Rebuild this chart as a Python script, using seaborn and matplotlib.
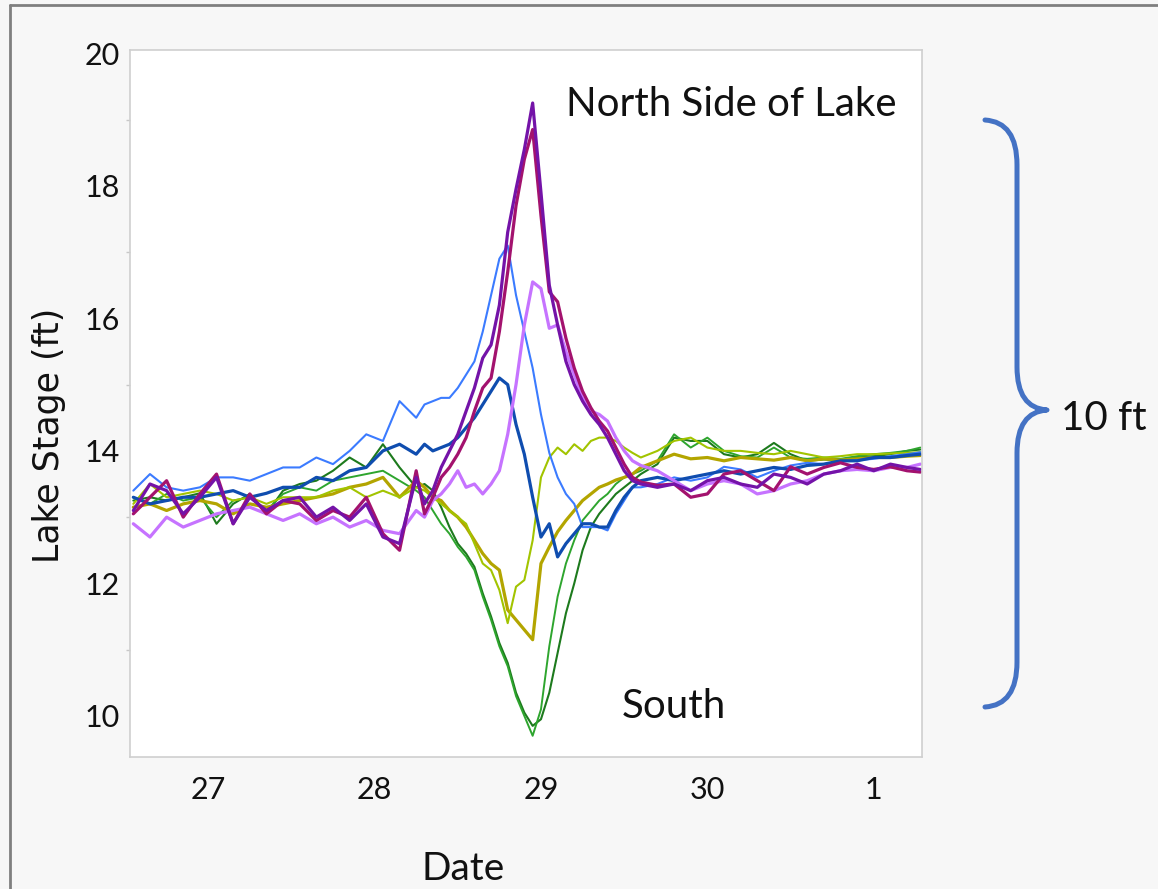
import numpy as np
import pandas as pd
import matplotlib
matplotlib.use("Agg")
import matplotlib.pyplot as plt
import seaborn as sns
from matplotlib import font_manager
from matplotlib.path import Path
from matplotlib.patches import PathPatch
from matplotlib.lines import Line2D

# ---------------- data ----------------
day = [26.55, 26.65, 26.75, 26.85, 26.95, 27.05, 27.15, 27.25, 27.35, 27.45, 27.55, 27.65, 27.75, 27.85, 27.95, 28.05, 28.15, 28.25,
       28.30, 28.35, 28.40, 28.45, 28.50, 28.55, 28.60, 28.65, 28.70, 28.75, 28.80, 28.85, 28.90, 28.95, 29.00, 29.05, 29.10, 29.15,
       29.20, 29.25, 29.30, 29.35, 29.40, 29.45, 29.50, 29.55, 29.60,
       29.70, 29.80, 29.90, 30.00, 30.10, 30.20, 30.30, 30.40, 30.50, 30.60, 30.70, 30.80, 30.90, 31.00, 31.10, 31.20, 31.28]

tick_days = [27, 28, 29, 30, 31]
tick_labels = ["27", "28", "29", "30", "1"]
y_ticks = [10, 12, 14, 16, 18, 20]

violet = [13.10, 13.50, 13.40, 13.05, 13.30, 13.60, 12.90, 13.30, 13.10, 13.25, 13.30, 13.00, 13.15, 12.95, 13.20, 12.70, 12.60, 13.60,
          13.20, 13.40, 13.75, 14.00, 14.25, 14.60, 14.95, 15.40, 15.60, 16.20, 17.30, 17.95, 18.55, 19.25, 17.90, 16.50, 15.90, 15.35,
          15.00, 14.75, 14.55, 14.40, 14.20, 13.95, 13.70, 13.55, 13.50,
          13.45, 13.50, 13.40, 13.55, 13.60, 13.50, 13.45, 13.65, 13.60, 13.50, 13.65, 13.70, 13.80, 13.70, 13.80, 13.75, 13.72]

magenta = [13.05, 13.30, 13.55, 13.00, 13.35, 13.65, 12.90, 13.35, 13.05, 13.25, 13.20, 12.95, 13.10, 13.00, 13.30, 12.75, 12.50, 13.70,
           13.05, 13.30, 13.60, 13.75, 13.95, 14.20, 14.60, 14.95, 15.10, 15.80, 16.70, 17.70, 18.40, 18.85, 17.55, 16.40, 16.25, 15.70,
           15.25, 14.90, 14.65, 14.45, 14.30, 14.05, 13.80, 13.60, 13.53,
           13.48, 13.50, 13.30, 13.35, 13.65, 13.70, 13.55, 13.40, 13.76, 13.65, 13.75, 13.82, 13.75, 13.72, 13.76, 13.70, 13.68]

orchid = [12.90, 12.70, 13.00, 12.85, 12.95, 13.05, 13.10, 13.15, 13.05, 12.95, 13.05, 12.90, 13.00, 12.85, 12.95, 12.80, 12.75, 13.10,
          13.00, 13.25, 13.35, 13.50, 13.70, 13.45, 13.50, 13.35, 13.50, 13.70, 14.25, 15.00, 15.90, 16.55, 16.45, 15.85, 15.90, 15.50,
          15.15, 14.80, 14.60, 14.55, 14.45, 14.20, 14.00, 13.85, 13.78,
          13.70, 13.55, 13.40, 13.50, 13.55, 13.50, 13.35, 13.40, 13.50, 13.55, 13.65, 13.70, 13.72, 13.70, 13.75, 13.75, 13.80]

light_blue = [13.40, 13.65, 13.45, 13.40, 13.45, 13.60, 13.60, 13.55, 13.65, 13.75, 13.75, 13.90, 13.80, 14.00, 14.25, 14.15, 14.75, 14.50,
              14.70, 14.75, 14.80, 14.80, 14.95, 15.15, 15.35, 15.80, 16.35, 16.90, 17.10, 16.35, 15.80, 15.25, 14.55, 13.97, 13.60, 13.35,
              13.20, 12.85, 12.85, 12.85, 12.80, 13.05, 13.25, 13.45, 13.45,
              13.50, 13.60, 13.55, 13.60, 13.76, 13.72, 13.60, 13.70, 13.78, 13.82, 13.80, 13.84, 13.86, 13.88, 13.92, 13.95, 13.98]

dark_blue = [13.30, 13.20, 13.25, 13.30, 13.30, 13.35, 13.40, 13.30, 13.36, 13.45, 13.45, 13.60, 13.55, 13.70, 13.75, 14.00, 14.10, 13.95,
             14.10, 14.00, 14.05, 14.10, 14.20, 14.35, 14.50, 14.70, 14.90, 15.10, 15.00, 14.40, 13.95, 13.30, 12.70, 12.90, 12.40, 12.60,
             12.75, 12.90, 12.90, 12.85, 12.85, 13.10, 13.30, 13.45, 13.55,
             13.60, 13.55, 13.60, 13.65, 13.70, 13.65, 13.70, 13.75, 13.72, 13.78, 13.80, 13.85, 13.85, 13.90, 13.90, 13.93, 13.95]

olive = [13.15, 13.20, 13.10, 13.20, 13.25, 13.20, 13.05, 13.20, 13.15, 13.20, 13.25, 13.30, 13.35, 13.45, 13.50, 13.60, 13.30, 13.55,
         13.45, 13.30, 13.25, 13.10, 13.00, 12.85, 12.65, 12.45, 12.30, 12.20, 11.60, 11.45, 11.30, 11.15, 12.30, 12.55, 12.78, 12.95,
         13.10, 13.25, 13.35, 13.45, 13.50, 13.56, 13.60, 13.65, 13.75,
         13.85, 13.95, 13.88, 13.90, 13.85, 13.90, 13.88, 13.86, 13.90, 13.85, 13.88, 13.86, 13.88, 13.90, 13.90, 13.92, 13.93]

lime = [13.20, 13.50, 13.30, 13.35, 13.40, 13.35, 13.25, 13.30, 13.20, 13.30, 13.30, 13.30, 13.40, 13.45, 13.30, 13.40, 13.30, 13.45,
        13.40, 13.30, 13.20, 13.10, 13.00, 12.90, 12.60, 12.30, 12.20, 11.90, 11.40, 11.95, 12.05, 12.65, 13.60, 13.90, 14.05, 13.95,
        14.10, 14.00, 14.15, 14.20, 14.20, 14.15, 14.05, 13.97, 13.90,
        14.00, 14.15, 14.20, 14.05, 14.00, 14.00, 13.97, 13.95, 14.00, 13.95, 13.90, 13.92, 13.95, 13.95, 13.96, 13.97, 13.98]

dark_green = [13.25, 13.30, 13.25, 13.30, 13.36, 12.90, 13.20, 13.35, 13.05, 13.40, 13.50, 13.55, 13.70, 13.90, 13.75, 14.10, 13.75, 13.45,
              13.50, 13.40, 13.15, 12.85, 12.60, 12.45, 12.25, 11.85, 11.50, 11.10, 10.80, 10.35, 10.05, 9.85, 9.95, 10.35, 10.95, 11.55,
              12.00, 12.50, 12.85, 13.05, 13.20, 13.35, 13.45, 13.55, 13.65,
              13.80, 14.20, 14.15, 14.15, 13.95, 13.90, 13.95, 14.12, 13.95, 13.85, 13.87, 13.86, 13.90, 13.92, 13.95, 14.00, 14.02]

green = [13.30, 13.20, 13.35, 13.25, 13.30, 13.00, 13.25, 13.30, 13.10, 13.35, 13.45, 13.40, 13.55, 13.60, 13.65, 13.70, 13.55, 13.40,
         13.30, 13.10, 12.90, 12.75, 12.55, 12.40, 12.20, 11.80, 11.45, 11.05, 10.75, 10.30, 10.00, 9.70, 10.10, 11.05, 11.80, 12.30,
         12.65, 12.95, 13.10, 13.25, 13.35, 13.50, 13.60, 13.65, 13.70,
         13.85, 14.25, 14.05, 14.20, 14.00, 13.92, 13.90, 14.05, 13.90, 13.88, 13.90, 13.88, 13.92, 13.95, 13.97, 14.00, 14.05]

series = {
    "dark_green": dark_green,
    "green": green,
    "olive": olive,
    "lime": lime,
    "light_blue": light_blue,
    "dark_blue": dark_blue,
    "orchid": orchid,
    "magenta": magenta,
    "violet": violet,
}
colors = {
    "dark_green": "#1d7a1d",
    "green": "#2ea52e",
    "olive": "#b3a500",
    "lime": "#a2c400",
    "light_blue": "#3b7bff",
    "dark_blue": "#0f4daf",
    "orchid": "#c673ff",
    "magenta": "#a3126e",
    "violet": "#7413a8",
}
widths = {
    "dark_green": 1.5, "green": 1.4, "olive": 2.3, "lime": 1.5, "light_blue": 1.5,
    "dark_blue": 2.3, "orchid": 2.3, "magenta": 2.3, "violet": 2.3,
}

frames = []
for name, vals in series.items():
    assert len(vals) == len(day), name
    frames.append(pd.DataFrame({"day": day, "stage": vals, "gauge": name}))
df = pd.concat(frames, ignore_index=True)

# ---------------- style ----------------
sns.set_theme(style="white")
avail = {f.name for f in font_manager.fontManager.ttflist}
narrow = next((n for n in ["Liberation Sans Narrow", "Lato", "Open Sans"] if n in avail), "DejaVu Sans")
plt.rcParams["font.family"] = [narrow, "DejaVu Sans"]

W, H = 1158, 889
fig = plt.figure(figsize=(W / 100, H / 100), dpi=100, facecolor="#f7f7f7")
ax = fig.add_axes([130 / W, 1 - 757 / H, (922 - 130) / W, (757 - 50) / H])
ax.set_facecolor("white")

sns.lineplot(data=df, x="day", y="stage", hue="gauge", palette=colors,
             size="gauge", sizes=widths, estimator=None, sort=False,
             legend=False, ax=ax)

ax.set_xlim(26.53, 31.29)
ax.set_ylim(9.38, 20.05)
ax.set_xticks(tick_days)
ax.set_xticklabels(tick_labels)
ax.set_yticks(y_ticks)
ax.set_yticks([11, 13, 15, 17, 19], minor=True)
ax.tick_params(axis="both", which="major", length=5, width=1, color="#c0c0c0",
               labelsize=22, labelcolor="#111111")
ax.tick_params(axis="y", which="minor", left=True, length=3, width=1, color="#c8c8c8")
ax.tick_params(axis="x", pad=9)
ax.tick_params(axis="y", pad=2)
for side, sp in ax.spines.items():
    sp.set_visible(True)
    sp.set_color("#cfcfcf")
    sp.set_linewidth(1.2)

ax.set_xlabel("Date", fontsize=28, color="#111111")
ax.xaxis.set_label_coords((463 - 130) / 792, -(851 - 757) / 707)
ax.xaxis.label.set_va("top")
ax.set_ylabel("Lake Stage (ft)", fontsize=25, color="#111111", family="DejaVu Sans")
ax.yaxis.set_label_coords((66 - 130) / 792, (757 - 435) / 707)

ax.text((731 - 130) / 792, (757 - 105) / 707, "North Side of Lake", transform=ax.transAxes,
        ha="center", va="center", fontsize=29, color="#111111")
ax.text((674 - 130) / 792, (757 - 706) / 707, "South", transform=ax.transAxes,
        ha="center", va="center", fontsize=29, color="#111111")

# annotation: curly brace and label in figure coordinates
def fp(px, py):
    return (px / W, 1 - py / H)

verts = [fp(985, 120), fp(1017, 122), fp(1017, 165), fp(1017, 367),
         fp(1017, 408), fp(1047, 410), fp(1017, 412), fp(1017, 453),
         fp(1017, 662), fp(1017, 705), fp(985, 707)]
codes = [Path.MOVETO, Path.CURVE3, Path.CURVE3, Path.LINETO,
         Path.CURVE3, Path.CURVE3, Path.CURVE3, Path.CURVE3,
         Path.LINETO, Path.CURVE3, Path.CURVE3]
brace = PathPatch(Path(verts, codes), transform=fig.transFigure, facecolor="none",
                  edgecolor="#4472c4", linewidth=3.6, capstyle="round", joinstyle="round")
fig.patches.append(brace)
fig.text(1104 / W, 1 - 418 / H, "10 ft", ha="center", va="center", fontsize=29, color="#111111")

# outer frame lines (top and left)
fig.add_artist(Line2D([10 / W, 1.0], [1 - 5 / H, 1 - 5 / H], transform=fig.transFigure,
                      color="#7f7f7f", linewidth=2.0))
fig.add_artist(Line2D([10 / W, 10 / W], [0.0, 1 - 5 / H], transform=fig.transFigure,
                      color="#7f7f7f", linewidth=2.0))

fig.savefig("out.png", dpi=100, facecolor=fig.get_facecolor())
